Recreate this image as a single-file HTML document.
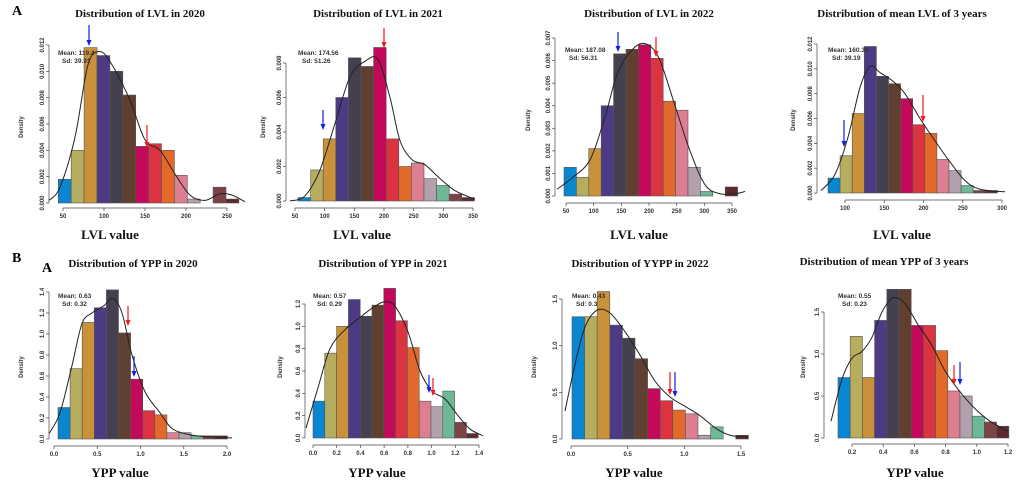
<!DOCTYPE html><html><head><meta charset="utf-8"><style>
body{margin:0;background:#fff;width:1024px;height:494px;overflow:hidden}
svg{display:block}
.t{font:bold 11px "Liberation Serif",serif;fill:#111}
.xl{font:bold 13px "Liberation Serif",serif;fill:#111}
.tk{font:bold 6px "Liberation Sans",sans-serif;fill:#333}
.m{font:bold 6.5px "Liberation Sans",sans-serif;fill:#333}
</style></head><body>
<svg id="s" width="1024" height="494" xmlns="http://www.w3.org/2000/svg">
<text x="12" y="15" style="font:bold 14px 'Liberation Serif',serif">A</text>
<text x="12" y="262" style="font:bold 14px 'Liberation Serif',serif">B</text>
<text x="42" y="272" style="font:bold 14px 'Liberation Serif',serif">A</text>
</svg>
<script>
const C=["#0a86d0","#b7ad5e","#c8913a","#4d3a85","#45404f","#603f30","#c2095a","#dc3340","#e3692a","#dd7f93","#b3a0ad","#6db896","#7c4246","#5a2a30"];
const P=[
{x0:58.3,bw:12.9,base:203,sc:158/0.012,h:[.0018,.004,.0118,.0112,.010,.0082,.0043,.0045,.004,.0021,.0003,0,.0012,.0003],
 yax:49,yt:[0,.002,.004,.006,.008,.010,.012],yd:3,xt:[50,100,150,200,250],xa:[63,227],xr:[50,250],xd:0,axy:208,
 title:"Distribution of  LVL in 2020",tx:140,ty:17,xl:"LVL value",xlx:110,xly:239,dx:23,dy:127,mx:58,my:55,mean:"Mean: 119.4",sd:"Sd: 39.91",
 ar:[["b",89,25,46],["r",147,125,148]],
 cv:[[49,.0002],[60,.0012],[75,.005],[88,.0105],[100,.0115],[112,.0105],[130,.0078],[145,.0048],[160,.0040],[175,.0022],[190,.0006],[205,.0002],[220,.0007],[232,.0006],[245,.0001]]},
{x0:298,bw:12.6,base:201,sc:138/0.008,h:[.0002,.0018,.0036,.006,.0083,.0078,.0089,.0036,.002,.0022,.0013,.0009,.0004,.0002],
 yax:286,yt:[0,.002,.004,.006,.008],yd:3,xt:[50,100,150,200,250,300,350],xa:[295,473],xr:[50,350],xd:0,axy:208,
 title:"Distribution of  LVL in 2021",tx:378,ty:17,xl:"LVL value",xlx:362,xly:239,dx:265,dy:127,mx:298,my:55,mean:"Mean: 174.56",sd:"Sd: 51.26",
 ar:[["b",323,110,130],["r",384,28,48]],
 cv:[[290,0],[305,.0003],[320,.0018],[335,.0045],[350,.0072],[365,.0081],[378,.0082],[390,.0060],[400,.0035],[412,.0024],[425,.0021],[440,.0013],[455,.0006],[475,.0001]]},
{x0:564,bw:12.4,base:196,sc:158/0.007,h:[.00127,.00083,.0021,.004,.0063,.0065,.0067,.0061,.0042,.0038,.00127,.0002,0,.0004],
 yax:555,yt:[0,.001,.002,.003,.004,.005,.006,.007],yd:3,xt:[50,100,150,200,250,300,350],xa:[566,732],xr:[50,350],xd:0,axy:203,
 title:"Distribution of  LVL in 2022",tx:649,ty:17,xl:"LVL value",xlx:639,xly:239,dx:530,dy:120,mx:565,my:52,mean:"Mean: 187.08",sd:"Sd: 56.31",
 ar:[["b",618,32,52],["r",656,37,57]],
 cv:[[557,.0003],[572,.0008],[590,.0016],[605,.0035],[618,.0055],[635,.0066],[648,.0067],[660,.0060],[675,.0040],[690,.0020],[705,.0005],[720,.0001],[735,.0001],[745,.0002]]},
{x0:828,bw:12.1,base:193,sc:149/0.012,h:[.0012,.003,.0064,.0118,.0094,.0088,.0076,.0055,.0048,.0027,.0018,.0006,.0002,.0002],
 yax:817,yt:[0,.002,.004,.006,.008,.010,.012],yd:3,xt:[100,150,200,250,300],xa:[845,1002],xr:[100,300],xd:0,axy:200,
 title:"Distribution of  mean LVL of 3 years",tx:902,ty:17,xl:"LVL value",xlx:902,xly:239,dx:795,dy:120,mx:828,my:52,mean:"Mean: 160.39",sd:"Sd: 39.19",
 ar:[["b",844,120,147],["r",923,95,122]],
 cv:[[821,.0002],[835,.0015],[848,.0045],[860,.0085],[870,.0102],[880,.0097],[893,.0090],[905,.0080],[920,.0060],[935,.0042],[950,.0025],[965,.0010],[980,.0003],[1005,.0001]]},
{x0:58,bw:12.1,base:439,sc:147/1.4,h:[.3,.67,1.11,1.25,1.42,1.01,.57,.27,.23,.06,.06,.03,.03,.03],
 yax:49,yt:[0,.2,.4,.6,.8,1.0,1.2,1.4],yd:1,xt:[0,.5,1,1.5,2],xa:[54,227],xr:[0,2],xd:1,axy:446,
 title:"Distribution of YPP in 2020",tx:133,ty:267,xl:"YPP value",xlx:120,xly:477,dx:23,dy:367,mx:58,my:298,mean:"Mean: 0.63",sd:"Sd: 0.32",
 ar:[["r",128,306,326],["b",134,356,377]],
 cv:[[49,.05],[60,.25],[72,.7],[82,1.1],[92,1.2],[104,1.27],[113,1.34],[122,1.2],[132,.8],[145,.45],[160,.25],[172,.1],[190,.04],[210,.02],[232,.01]]},
{x0:313,bw:11.8,base:438,sc:134/1.2,h:[.33,.76,1.0,1.24,1.09,1.19,1.34,1.05,.81,.33,.28,.42,.14,.04],
 yax:305,yt:[0,.2,.4,.6,.8,1.0,1.2],yd:1,xt:[0,.2,.4,.6,.8,1,1.2,1.4],xa:[313,479],xr:[0,1.4],xd:1,axy:445,
 title:"Distribution of YPP in 2021",tx:383,ty:267,xl:"YPP value",xlx:377,xly:477,dx:282,dy:367,mx:313,my:298,mean:"Mean: 0.57",sd:"Sd: 0.29",
 ar:[["b",429,375,393],["r",433,378,396]],
 cv:[[306,.09],[318,.45],[330,.8],[345,.97],[360,1.08],[375,1.18],[385,1.22],[395,1.18],[408,.95],[420,.6],[432,.42],[445,.35],[458,.2],[470,.08],[483,.02]]},
{x0:572,bw:12.6,base:439,sc:140/1.5,h:[1.31,1.31,1.58,1.22,1.08,.86,.54,.41,.31,.27,.04,.13,0,.04],
 yax:562,yt:[0,.5,1,1.5],yd:1,xt:[0,.5,1,1.5],xa:[571,741],xr:[0,1.5],xd:1,axy:446,
 title:"Distribution of YYPP in 2022",tx:640,ty:267,xl:"YPP value",xlx:634,xly:477,dx:536,dy:367,mx:572,my:298,mean:"Mean: 0.43",sd:"Sd: 0.3",
 ar:[["r",670,372,395],["b",675,372,397]],
 cv:[[565,.3],[575,.8],[585,1.2],[597,1.38],[610,1.35],[625,1.15],[640,.9],[655,.62],[670,.45],[685,.35],[700,.25],[715,.12],[730,.04],[748,.02]]},
{x0:838,bw:12.2,base:438,sc:126/1.5,h:[.72,1.21,.72,1.4,1.77,1.77,1.34,1.34,1.04,.56,.5,.26,.19,.14],
 yax:824,yt:[0,.5,1,1.5],yd:1,xt:[.2,.4,.6,.8,1,1.2],xa:[852,1008],xr:[.2,1.2],xd:1,axy:444,
 title:"Distribution of mean YPP of 3 years",tx:884,ty:265,xl:"YPP value",xlx:915,xly:477,dx:805,dy:367,mx:838,my:298,mean:"Mean: 0.55",sd:"Sd: 0.23",
 ar:[["r",954,365,385],["b",960,362,385]],
 cv:[[831,.2],[842,.7],[852,.95],[862,1.03],[872,1.2],[882,1.5],[893,1.67],[905,1.6],[918,1.35],[932,1.1],[945,.8],[960,.55],[975,.35],[990,.2],[1008,.08]]}
];
const s=document.getElementById('s');let o='';
function path(pts){let d=`M${pts[0][0]},${pts[0][1]}`;for(let i=0;i<pts.length-1;i++){const p0=pts[i-1]||pts[i],p1=pts[i],p2=pts[i+1],p3=pts[i+2]||p2;
d+=` C${p1[0]+(p2[0]-p0[0])/6},${p1[1]+(p2[1]-p0[1])/6} ${p2[0]-(p3[0]-p1[0])/6},${p2[1]-(p3[1]-p1[1])/6} ${p2[0]},${p2[1]}`;}return d;}
for(const p of P){
 p.h.forEach((h,i)=>{if(h>0)o+=`<rect x="${p.x0+i*p.bw}" y="${p.base-h*p.sc}" width="${p.bw}" height="${h*p.sc}" fill="${C[i]}" stroke="#555" stroke-width="0.6"/>`;});
 const yt=p.yt;o+=`<line x1="${p.yax}" x2="${p.yax}" y1="${p.base}" y2="${p.base-yt[yt.length-1]*p.sc}" stroke="#444" stroke-width="0.7"/>`;
 for(const v of yt){const y=p.base-v*p.sc;o+=`<line x1="${p.yax-3}" x2="${p.yax}" y1="${y}" y2="${y}" stroke="#444" stroke-width="0.7"/><text class="tk" transform="translate(${p.yax-5},${y}) rotate(-90)" text-anchor="middle">${v.toFixed(p.yd)}</text>`;}
 o+=`<line x1="${p.xa[0]}" x2="${p.xa[1]}" y1="${p.axy}" y2="${p.axy}" stroke="#444" stroke-width="0.7"/>`;
 for(const v of p.xt){const x=p.xa[0]+(v-p.xr[0])/(p.xr[1]-p.xr[0])*(p.xa[1]-p.xa[0]);o+=`<line x1="${x}" x2="${x}" y1="${p.axy}" y2="${p.axy+3}" stroke="#444" stroke-width="0.7"/><text class="tk" x="${x}" y="${p.axy+10}" text-anchor="middle">${v.toFixed(p.xd)}</text>`;}
 o+=`<path d="${path(p.cv.map(c=>[c[0],p.base-c[1]*p.sc]))}" fill="none" stroke="#222" stroke-width="1"/>`;
 o+=`<text class="t" x="${p.tx}" y="${p.ty}" text-anchor="middle">${p.title}</text><text class="xl" x="${p.xlx}" y="${p.xly}" text-anchor="middle">${p.xl}</text>`;
 o+=`<text class="tk" transform="translate(${p.dx},${p.dy}) rotate(-90)" text-anchor="middle">Density</text>`;
 o+=`<text class="m" x="${p.mx}" y="${p.my}">${p.mean}</text><text class="m" x="${p.mx+4}" y="${p.my+8}">${p.sd}</text>`;
 for(const a of p.ar){const c=a[0]=="b"?"#1020e0":"#f01818";o+=`<line x1="${a[1]}" x2="${a[1]}" y1="${a[2]}" y2="${a[3]-5}" stroke="${c}" stroke-width="1.2"/><polygon points="${a[1]-2.5},${a[3]-6} ${a[1]+2.5},${a[3]-6} ${a[1]},${a[3]}" fill="${c}"/>`;}
}
s.insertAdjacentHTML('beforeend',o);
</script></body></html>
